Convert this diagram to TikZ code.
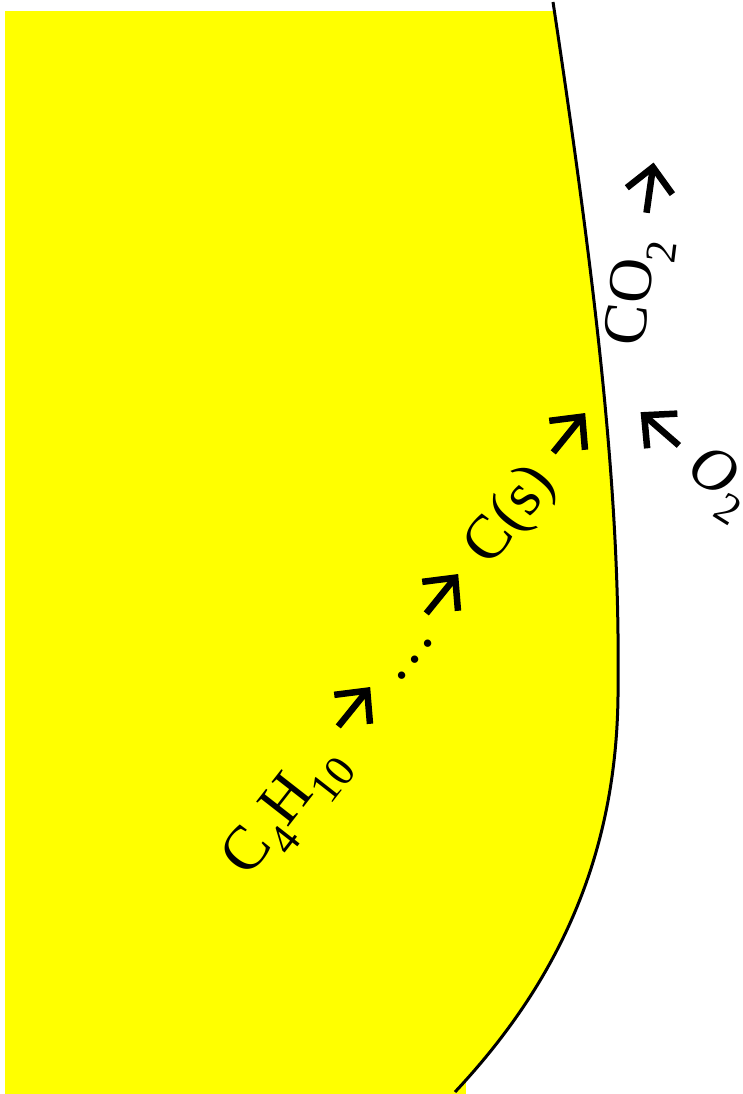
\documentclass[tikz,border=0pt]{standalone}
\usepackage{fontspec}
\setmainfont{Liberation Serif}
\definecolor{yel}{RGB}{255,255,0}
\begin{document}
\begin{tikzpicture}[x=1pt,y=-1pt,
  lbl/.style={inner sep=0pt, font=\fontsize{62}{70}\selectfont},
  rarr/.pic={
    \draw[line width=6.5pt, line cap=butt] (-25,0) -- (20,0);
    \draw[line width=6.5pt, line join=miter, miter limit=10, line cap=butt]
      (-3,-23) -- (21,0) -- (-3,23);
  }]
\useasboundingbox (0,0) rectangle (743,1094);
% yellow region
\begin{scope}
  \clip (5,12) rectangle (743,1094);
  \fill[yel] (0,0) -- (553,2) .. controls (598,300) and (620,500) .. (618,680)
     .. controls (620,850) and (560,980) .. (455,1092) -- (455,1094) -- (0,1094) -- cycle;
\end{scope}
\fill[yel] (5,12) rectangle (466,1094);
% boundary curve
\draw[line width=3pt] (553,2) .. controls (598,300) and (620,500) .. (618,680)
     .. controls (620,850) and (560,980) .. (455,1092);
% reaction sequence inside
\node[lbl, rotate=52] (c4h10) at (287,812) {C\textsubscript{4}H\textsubscript{10}};
\pic[rotate=51] (a1) at (354,707) {rarr};
\node[lbl, rotate=52] (dots) at (415,660) {.\kern0.08em.\kern0.08em.};
\pic[rotate=51] (a2) at (442,594) {rarr};
\node[lbl, rotate=52] (cs) at (512,516) {C(s)};
\pic[rotate=51] (a3) at (569,433) {rarr};
% outside
\node[lbl, rotate=83] (co2) at (640,292) {CO\textsubscript{2}};
\pic[rotate=82] (a4) at (650,188) {rarr};
\pic[rotate=139] (a5) at (660,429) {rarr};
\node[lbl, rotate=-32, text depth=0.12em] (o2) at (723,476) {\textit{O}\textsubscript{2}};
\end{tikzpicture}
\end{document}
